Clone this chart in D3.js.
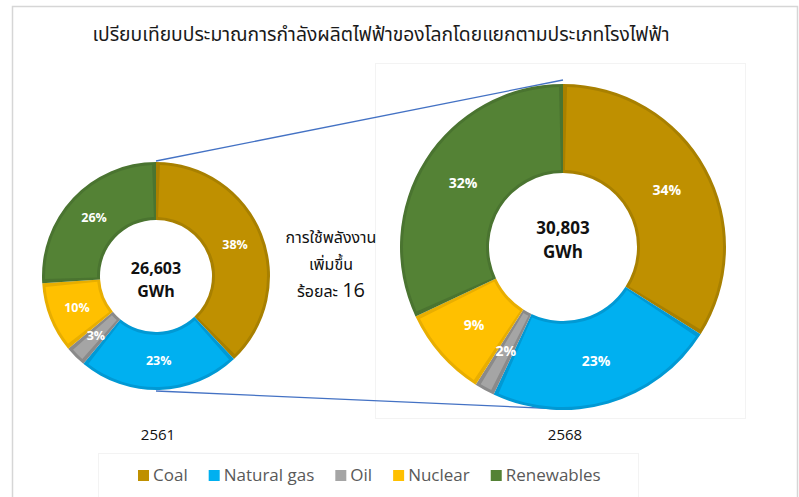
<!DOCTYPE html>
<html><head><meta charset="utf-8">
<script src="https://cdn.jsdelivr.net/npm/d3@7/dist/d3.min.js"></script>
<style>body{margin:0;background:#fff}svg{display:block}</style>
</head><body>
<svg id="c" width="799" height="497"></svg>
<script>
const categories = ["Coal","Natural gas","Oil","Nuclear","Renewables"];
const values2561 = [38,23,3,10,26];
const values2568 = [34,23,2,9,32];
const years = ["2561","2568"];
const totals = ["26,603","30,803"];
const unit = "GWh";
const title = "เปรียบเทียบประมาณการกำลังผลิตไฟฟ้าของโลกโดยแยกตามประเภทโรงไฟฟ้า";
const middleLines = ["การใช้พลังงาน","เพิ่มขึ้น","ร้อยละ"];
const growth = "16";
const fills = ["#BF9000","#00B0F0","#A5A5A5","#FFC000","#548235"];
const edges = ["#A88000","#0199D4","#8A8A8A","#E8AE00","#4A7430"];

const svg = d3.select("#c");
const thai = "'Noto Sans Thai','Noto Serif Thai','Tlwg Typo',Garuda,Loma,sans-serif";
const latin = "'Open Sans','Noto Sans',sans-serif";

// outer border and faint plot boxes
svg.append("rect").attr("x",12.5).attr("y",6.5).attr("width",785).attr("height",500)
  .attr("fill","none").attr("stroke","#d6d6d6").attr("stroke-width",1.5);
svg.append("rect").attr("x",375.5).attr("y",63.5).attr("width",370).attr("height",355)
  .attr("fill","none").attr("stroke","#f3f3f3");
svg.append("rect").attr("x",98.5).attr("y",453.5).attr("width",540).attr("height",50)
  .attr("fill","none").attr("stroke","#f3f3f3");

svg.append("text").attr("x",381).attr("y",41).attr("text-anchor","middle")
  .attr("font-family",thai).attr("font-size",19).attr("fill","#1a1a1a")
  .attr("textLength",577).attr("lengthAdjust","spacingAndGlyphs").text(title);

const donuts = [
  {vals: values2561, cx:156, cy:276, r:114, ir:56, total: totals[0], year: years[0], fs:12.5, cfs:16, ty1:-8, ty2:15},
  {vals: values2568, cx:563, cy:247, r:163, ir:74, total: totals[1], year: years[1], fs:14, cfs:17, ty1:-19, ty2:5}
];

// connector lines
const L = donuts[0], R = donuts[1];
svg.append("line").attr("x1",L.cx).attr("y1",L.cy-L.r-1).attr("x2",R.cx).attr("y2",R.cy-R.r-4)
  .attr("stroke","#4472C4").attr("stroke-width",1.3);
svg.append("line").attr("x1",L.cx).attr("y1",L.cy+L.r+1).attr("x2",R.cx).attr("y2",R.cy+R.r-1)
  .attr("stroke","#4472C4").attr("stroke-width",1.3);

const pie = d3.pie().sort(null).value(d=>d);
donuts.forEach(D=>{
  const g = svg.append("g").attr("transform",`translate(${D.cx},${D.cy})`);
  const arcs = pie(D.vals);
  const outer = d3.arc().innerRadius(D.ir).outerRadius(D.r);
  const innerArc = d3.arc().innerRadius(D.ir+3).outerRadius(D.r-3);
  g.selectAll("path.o").data(arcs).join("path").attr("class","o")
    .attr("d",outer).attr("fill",(d,i)=>edges[i]);
  g.selectAll("path.i").data(arcs).join("path").attr("class","i")
    .attr("d",d=>{
      const a = Math.asin(3/((D.r+D.ir)/2));
      return innerArc({startAngle:d.startAngle+a, endAngle:Math.max(d.startAngle+a,d.endAngle-a)});
    }).attr("fill",(d,i)=>fills[i]);
  const lab = d3.arc().innerRadius(D.ir).outerRadius(D.r);
  g.selectAll("text.p").data(arcs).join("text").attr("class","p")
    .attr("transform",d=>`translate(${lab.centroid(d)})`)
    .attr("text-anchor","middle").attr("dy","0.35em")
    .attr("font-family",latin).attr("font-weight","bold").attr("font-size",D.fs)
    .attr("fill","#fff").text(d=>d.data+"%");
  g.append("text").attr("y",D.ty1).attr("text-anchor","middle").attr("dy","0.35em")
    .attr("font-family",latin).attr("font-weight","bold").attr("font-size",D.cfs)
    .attr("fill","#111").text(D.total);
  g.append("text").attr("y",D.ty2).attr("text-anchor","middle").attr("dy","0.35em")
    .attr("font-family",latin).attr("font-weight","bold").attr("font-size",D.cfs)
    .attr("fill","#111").text(unit);
  svg.append("text").attr("x",D.cx+2).attr("y",440).attr("text-anchor","middle")
    .attr("font-family",latin).attr("font-size",15).attr("fill","#111").text(D.year);
});

// middle text
const mid = svg.append("g").attr("font-family",thai).attr("fill","#111").attr("text-anchor","middle");
mid.append("text").attr("x",331).attr("y",243).attr("font-size",16).text(middleLines[0]);
mid.append("text").attr("x",331).attr("y",270).attr("font-size",16).text(middleLines[1]);
const t3 = mid.append("text").attr("x",331).attr("y",297).attr("font-size",16);
t3.append("tspan").text(middleLines[2]+" ");
t3.append("tspan").attr("font-family",latin).attr("font-size",20).text(growth);

// legend
const lg = svg.append("g").attr("font-family",latin).attr("font-size",17).attr("fill","#595959");
let x = 138;
categories.forEach((c,i)=>{
  lg.append("rect").attr("x",x).attr("y",470).attr("width",11).attr("height",11).attr("fill",fills[i]);
  const t = lg.append("text").attr("x",x+15).attr("y",481).text(c);
  x += 15 + t.node().getComputedTextLength() + 21;
});
</script>
</body></html>
